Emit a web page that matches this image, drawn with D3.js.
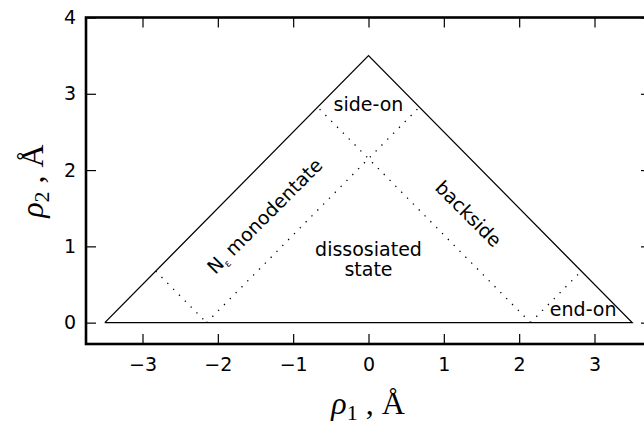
<!DOCTYPE html>
<html><head><meta charset="utf-8">
<script src="https://cdn.jsdelivr.net/npm/d3@7"></script>
<style>body{margin:0;background:#fff}svg{display:block}</style>
</head><body>
<script>
const xTicks = [-3, -2, -1, 0, 1, 2, 3];
const yTicks = [0, 1, 2, 3, 4];
const xDomain = [-3.75, 3.75];
const yDomain = [-0.28, 4.0];
// outer boundary (triangle + base)
const triangle = [[-3.5, 0], [0, 3.5], [3.5, 0], [-3.5, 0]];
// dotted region boundaries
const dotted = [
  [[-2.825, 0.675], [-2.15, 0]],
  [[-2.15, 0], [0.675, 2.825]],
  [[2.15, 0], [-0.675, 2.825]],
  [[2.15, 0], [2.825, 0.675]]
];
const regionLabels = [
  {text: "side-on", x: 0, y: 2.87, rot: 0},
  {text: "dissosiated", x: 0, y: 0.97, rot: 0},
  {text: "state", x: 0, y: 0.70, rot: 0},
  {text: "backside", x: 1.33, y: 1.43, rot: 45},
  {text: "end-on", x: 2.85, y: 0.18, rot: 0}
];

const W = 644, H = 424;
const svg = d3.select("body").append("svg").attr("width", W).attr("height", H);
const L = 86, R = 651, T = 17.5, B = 344;
const x = d3.scaleLinear().domain(xDomain).range([L, R]);
const y = d3.scaleLinear().domain(yDomain).range([B, T]);
const font = "'DejaVu Sans', sans-serif";

const line = d3.line().x(d => x(d[0])).y(d => y(d[1]));
svg.append("path").attr("d", line(triangle)).attr("fill", "none")
  .attr("stroke", "#000").attr("stroke-width", 1.3).attr("stroke-linejoin", "miter");
dotted.forEach(seg => {
  svg.append("path").attr("d", line(seg)).attr("fill", "none")
    .attr("stroke", "#000").attr("stroke-width", 1.3).attr("stroke-dasharray", "1.3,7");
});

// axes with inward ticks
const fmt = d => d < 0 ? "\u2212" + Math.abs(d) : String(d);
const gBottom = svg.append("g").attr("transform", `translate(0,${B})`)
  .call(d3.axisBottom(x).tickValues(xTicks).tickSizeInner(-10).tickSizeOuter(0).tickPadding(14).tickFormat(fmt));
const gTop = svg.append("g").attr("transform", `translate(0,${T})`)
  .call(d3.axisTop(x).tickValues(xTicks).tickSizeInner(-10).tickSizeOuter(0).tickFormat(""));
const gLeft = svg.append("g").attr("transform", `translate(${L},0)`)
  .call(d3.axisLeft(y).tickValues(yTicks).tickSizeInner(-10).tickSizeOuter(0).tickPadding(10).tickFormat(fmt));
const gRight = svg.append("g").attr("transform", `translate(${R},0)`)
  .call(d3.axisRight(y).tickValues(yTicks).tickSizeInner(-10).tickSizeOuter(0).tickFormat(""));
[gBottom, gTop, gLeft, gRight].forEach(g => {
  g.select(".domain").remove();
  g.selectAll(".tick line").attr("stroke", "#000").attr("stroke-width", 1.2);
  g.selectAll("text").attr("font-family", font).attr("font-size", 19).attr("fill", "#000");
});
svg.append("rect").attr("x", L).attr("y", T).attr("width", R - L).attr("height", B - T)
  .attr("fill", "none").attr("stroke", "#000").attr("stroke-width", 2.6);

// region labels
regionLabels.forEach(d => {
  svg.append("text").attr("x", x(d.x)).attr("y", y(d.y))
    .attr("text-anchor", "middle").attr("dominant-baseline", "central")
    .attr("transform", `rotate(${d.rot},${x(d.x)},${y(d.y)})`)
    .attr("font-family", font).attr("font-size", 19).text(d.text);
});
// N_eps monodentate
{
  const cx = x(-1.38), cy = y(1.40);
  const t = svg.append("text").attr("x", cx).attr("y", cy)
    .attr("text-anchor", "middle").attr("dominant-baseline", "central")
    .attr("transform", `rotate(-45,${cx},${cy})`)
    .attr("font-family", font).attr("font-size", 19);
  t.append("tspan").text("N");
  t.append("tspan").attr("font-size", 10).attr("dy", 7).text("\u03b5");
  t.append("tspan").attr("dy", -7).text(" monodentate");
}

// axis titles
const serif = "'Liberation Serif', 'DejaVu Serif', serif";
{
  const t = svg.append("text").attr("x", 368).attr("y", 414).attr("text-anchor", "middle")
    .attr("font-family", serif).attr("font-size", 32);
  t.append("tspan").attr("font-style", "italic").text("\u03c1");
  t.append("tspan").attr("font-size", 22).attr("dy", 6).text("1");
  t.append("tspan").attr("dy", -6).text(" ,  \u00c5");
}
{
  const t = svg.append("text").attr("transform", "translate(43,181) rotate(-90)").attr("text-anchor", "middle")
    .attr("font-family", serif).attr("font-size", 32);
  t.append("tspan").attr("font-style", "italic").text("\u03c1");
  t.append("tspan").attr("font-size", 22).attr("dy", 6).text("2");
  t.append("tspan").attr("dy", -6).text(" ,  \u00c5");
}
</script>
</body></html>
